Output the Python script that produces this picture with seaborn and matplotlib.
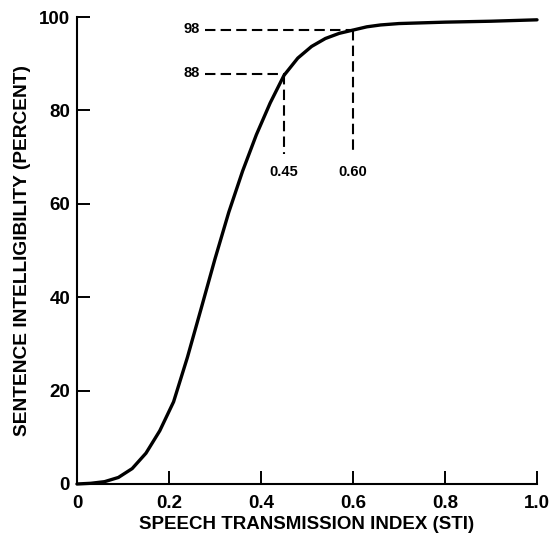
import matplotlib
matplotlib.use("Agg")
import matplotlib.pyplot as plt
import seaborn as sns
import pandas as pd

# STI vs sentence intelligibility
sti = [0.0, 0.03, 0.06, 0.09, 0.12, 0.15, 0.18, 0.21, 0.24, 0.27, 0.30, 0.33,
       0.36, 0.39, 0.42, 0.45, 0.48, 0.51, 0.54, 0.57, 0.60, 0.63, 0.66,
       0.70, 0.80, 0.90, 1.0]
intelligibility = [0.0, 0.15, 0.5, 1.4, 3.3, 6.6, 11.4, 17.6, 27.1, 37.6, 48.2,
                   58.2, 67.0, 74.8, 81.6, 87.5, 91.2, 93.7, 95.4, 96.5, 97.2,
                   97.9, 98.3, 98.6, 98.9, 99.1, 99.4]

ref_sti = [0.45, 0.60]
ref_pct = [87.8, 97.2]
ref_sti_labels = ["0.45", "0.60"]
ref_pct_labels = ["88", "98"]

xticks = [0, 0.2, 0.4, 0.6, 0.8, 1.0]
xtick_labels = ["0", "0.2", "0.4", "0.6", "0.8", "1.0"]
yticks = [0, 20, 40, 60, 80, 100]

sns.set_style("ticks")
plt.rcParams["font.family"] = ["Liberation Sans", "DejaVu Sans"]
plt.rcParams["font.weight"] = "bold"
for key in ["text.color", "axes.labelcolor", "xtick.color", "ytick.color",
            "axes.edgecolor"]:
    plt.rcParams[key] = "black"

df = pd.DataFrame({"sti": sti, "pct": intelligibility})

fig = plt.figure(figsize=(5.51, 5.56), dpi=100)
ax = fig.add_axes([0.1397, 0.1295, 0.8349, 0.8399])

sns.lineplot(data=df, x="sti", y="pct", color="black", linewidth=2.4,
             ax=ax, clip_on=False)

# dashed reference lines
x_start = 0.278
dash = (0, (5, 2.5))
for xs, ys, xl, yl in zip(ref_sti, ref_pct, ref_sti_labels, ref_pct_labels):
    ax.plot([x_start, xs], [ys, ys], color="black", lw=1.5, ls=dash)
    ax.plot([xs, xs], [ys, 70.6], color="black", lw=1.5, ls=dash)
    ax.text(x_start - 0.012, ys + 0.3, yl, ha="right", va="center",
            fontsize=10.5, fontweight="bold")
    ax.text(xs, 66.8, xl, ha="center", va="center", fontsize=10.5,
            fontweight="bold")

ax.set_xlim(0, 1.0)
ax.set_ylim(0, 100)
ax.set_xticks(xticks)
ax.set_xticklabels(xtick_labels)
ax.set_yticks(yticks)
ax.tick_params(direction="in", length=9.5, width=1.4, labelsize=13.5)
ax.tick_params(axis="x", pad=8)
ax.tick_params(axis="y", pad=5)
for lab in ax.get_xticklabels() + ax.get_yticklabels():
    lab.set_fontweight("bold")

sns.despine(ax=ax)
for side in ["left", "bottom"]:
    ax.spines[side].set_linewidth(1.5)

ax.set_xlabel("SPEECH TRANSMISSION INDEX (STI)", fontsize=13.5,
              fontweight="bold", labelpad=3)
ax.set_ylabel("SENTENCE INTELLIGIBILITY (PERCENT)", fontsize=13.8,
              fontweight="bold", labelpad=6)

fig.savefig("out.png", dpi=100)
